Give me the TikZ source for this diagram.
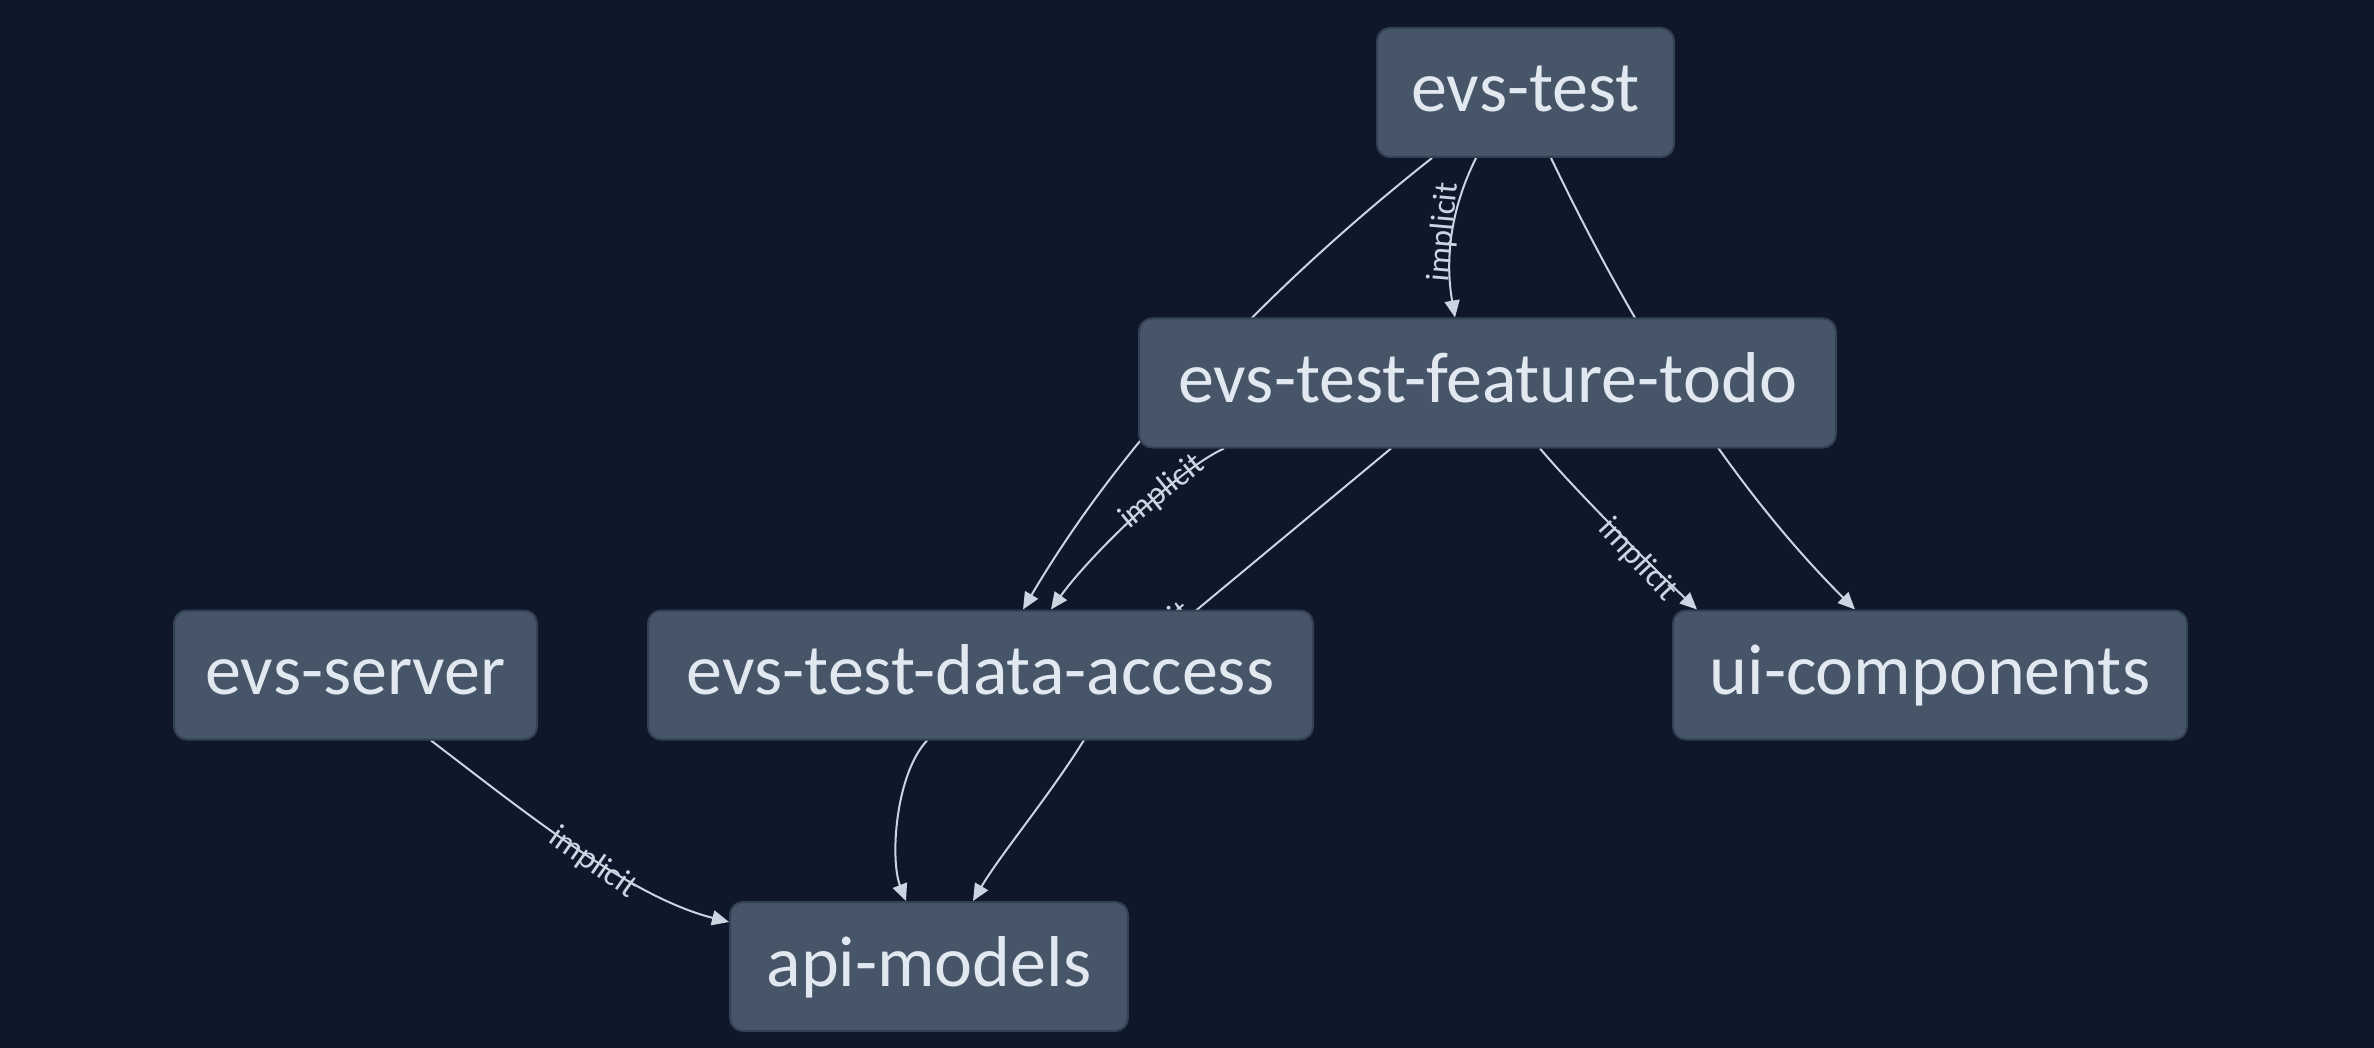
\documentclass[tikz,border=0pt]{standalone}
\usepackage{fontspec}
\setmainfont{Carlito}
\usetikzlibrary{arrows.meta}
\definecolor{bgc}{HTML}{0F172A}
\definecolor{nodefill}{HTML}{475569}
\definecolor{nodeline}{HTML}{334155}
\definecolor{nodetext}{HTML}{E2E8F0}
\definecolor{edgec}{HTML}{CBD5E1}
\pgfdeclarelayer{bg}
\pgfdeclarelayer{edges}
\pgfsetlayers{bg,edges,main}
\begin{document}
\begin{tikzpicture}[x=1pt,y=-1pt,
  pkg/.style={rectangle, rounded corners=13pt, fill=nodefill, draw=nodeline, line width=2pt,
    text=nodetext, font=\fontsize{72}{86}\selectfont, inner sep=0pt,
    text height=52pt, text depth=13pt, minimum height=129pt},
  conn/.style={draw=edgec, line width=2pt, -{Triangle[length=17pt,width=15pt]}},
  elabel/.style={text=edgec, font=\fontsize{33}{40}\selectfont, inner sep=0pt}]
\useasboundingbox (0,0) rectangle (2374,1048);
\begin{pgfonlayer}{bg}
\fill[bgc] (0,0) rectangle (2374,1048);
\end{pgfonlayer}

\node[pkg, minimum width=297pt] (evstest) at (1525.5,92.5) {evs-test};
\node[pkg, minimum width=697pt] (feature) at (1487.5,383) {evs-test-feature-todo};
\node[pkg, minimum width=363pt] (server) at (355.5,675) {evs-server};
\node[pkg, minimum width=665pt] (dataaccess) at (980.5,675) {evs-test-data-access};
\node[pkg, minimum width=514pt] (ui) at (1930,675) {ui-components};
\node[pkg, minimum width=398pt] (api) at (929,966.5) {api-models};

\begin{pgfonlayer}{edges}
% evs-test -> evs-test-data-access
\draw[conn] ([xshift=-93.5pt]evstest.south) .. controls (1275,282) and (1125,436) .. ([xshift=42.5pt]dataaccess.north);
% evs-test -> evs-test-feature-todo
\draw[conn] ([xshift=-49.5pt]evstest.south) .. controls (1450,210) and (1445,260) .. ([xshift=-32.5pt]feature.north);
\node[elabel, rotate=85] (lbltf) at (1444,232) {implicit};
% evs-test -> ui-components
\draw[conn] ([xshift=25.5pt]evstest.south) .. controls (1600,260) and (1700,455) .. ([xshift=-75pt]ui.north);
% feature -> data-access
\draw[conn] ([xshift=-263.5pt]feature.south) .. controls (1180,468) and (1090,555) .. ([xshift=70.5pt]dataaccess.north);
\node[elabel, rotate=39] (lblfd) at (1162,492) {implicit};
% feature -> ui-components
\draw[conn] ([xshift=52.5pt]feature.south) .. controls (1575,490) and (1650,565) .. ([xshift=-233pt]ui.north);
\node[elabel, rotate=-47] (lblfu) at (1638,560) {implicit};
% feature -> api-models
\draw[conn] ([xshift=-96.5pt]feature.south) -- (1199,608) .. controls (1150,649) and (1110,700) .. (1084,740) .. controls (1050,795) and (1000,855) .. ([xshift=44pt]api.north);
\node[elabel, rotate=40] (lblfa) at (1150,640) {implicit};
% evs-server -> api-models
\draw[conn] ([xshift=75.5pt]server.south) .. controls (526,813) and (630,897) .. ([yshift=44.5pt]api.west);
\node[elabel, rotate=-35] (lblsa) at (593,863) {implicit};
% data-access -> api-models
\draw[conn] ([xshift=-53.5pt]dataaccess.south) .. controls (895,775) and (890,860) .. ([xshift=-23pt]api.north);
\end{pgfonlayer}
\end{tikzpicture}
\end{document}
